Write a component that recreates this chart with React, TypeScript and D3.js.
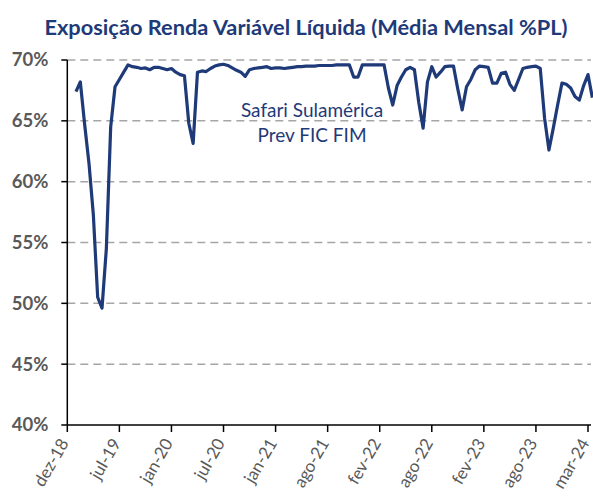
import { useEffect, useRef } from 'react';
import * as d3 from 'd3';

const title = 'Exposição Renda Variável Líquida (Média Mensal %PL)';
const seriesName = ['Safari Sulamérica', 'Prev FIC FIM'];

const tickLabels = ['dez-18', 'jul-19', 'jan-20', 'jul-20', 'jan-21', 'ago-21', 'fev-22', 'ago-22', 'fev-23', 'ago-23', 'mar-24'];
const yTicks = [40, 45, 50, 55, 60, 65, 70];

// roughly semi-monthly readings (% do PL), first reading a little after dez-18
const exposure = [
  67.4, 68.2, 64.7, 61.5, 57.3, 50.5, 49.6, 54.5, 64.5, 67.8,
  68.4, 69.0, 69.6, 69.45, 69.4, 69.3, 69.35, 69.2, 69.4, 69.4,
  69.3, 69.2, 69.3, 69.0, 68.8, 68.7, 64.8, 63.15, 69.0, 69.1,
  69.05, 69.3, 69.5, 69.6, 69.65, 69.55, 69.35, 69.15, 69.0, 68.65,
  69.2, 69.3, 69.35, 69.4, 69.45, 69.3, 69.35, 69.35, 69.3, 69.35,
  69.4, 69.45, 69.45, 69.5, 69.5, 69.5, 69.55, 69.55, 69.55, 69.55,
  69.6, 69.6, 69.6, 69.6, 68.6, 68.6, 69.6, 69.6, 69.6, 69.6,
  69.6, 69.6, 67.7, 66.3, 67.9, 68.6, 69.2, 69.4, 69.2, 66.5,
  64.4, 68.2, 69.45, 68.6, 69.0, 69.45, 69.5, 69.5, 67.6, 65.9,
  67.8, 68.4, 69.2, 69.5, 69.45, 69.4, 68.1, 68.1, 68.9, 69.0,
  68.0, 67.5, 68.4, 69.3, 69.4, 69.45, 69.5, 69.3, 65.2, 62.6,
  64.4, 66.3, 68.1, 68.0, 67.7, 67.0, 66.7, 67.9, 68.8, 66.9,
];
const firstIndex = 2;
const pointsPerLabel = 12;

export default function App() {
  const svgRef = useRef<SVGSVGElement>(null);

  useEffect(() => {
    if (!svgRef.current) return;
    const width = 593;
    const height = 502;
    const svg = d3.select(svgRef.current);
    svg.selectAll('*').remove();
    svg.attr('width', width).attr('height', height);

    const font = 'Lato, "Open Sans", sans-serif';
    const blue = '#1f3a78';
    const gray = '#595959';

    const plot = { left: 67.3, right: 591, top: 60, bottom: 425 };
    const lastTick = 588;

    const x = d3.scaleLinear()
      .domain([0, (tickLabels.length - 1) * pointsPerLabel])
      .range([plot.left, lastTick]);
    const y = d3.scaleLinear().domain([40, 70]).range([plot.bottom, plot.top]);

    // title
    svg.append('text')
      .attr('x', 306)
      .attr('y', 35)
      .attr('text-anchor', 'middle')
      .attr('font-family', font)
      .attr('font-weight', 700)
      .attr('font-size', 21.8)
      .attr('fill', blue)
      .text(title);

    // gridlines
    svg.append('g')
      .selectAll('line')
      .data(yTicks.filter(d => d > 40))
      .join('line')
      .attr('x1', plot.left)
      .attr('x2', plot.right)
      .attr('y1', d => y(d))
      .attr('y2', d => y(d))
      .attr('stroke', '#a6a6a6')
      .attr('stroke-width', 1.5)
      .attr('stroke-dasharray', '8,5');

    // y axis
    const yAxis = svg.append('g').attr('transform', `translate(${plot.left},0)`);
    yAxis.append('line')
      .attr('y1', plot.top)
      .attr('y2', plot.bottom)
      .attr('stroke', '#000')
      .attr('stroke-width', 1.5);
    yAxis.selectAll('line.tick')
      .data(yTicks)
      .join('line')
      .attr('class', 'tick')
      .attr('x1', -6)
      .attr('x2', 0)
      .attr('y1', d => y(d))
      .attr('y2', d => y(d))
      .attr('stroke', '#000')
      .attr('stroke-width', 1.5);
    yAxis.selectAll('text')
      .data(yTicks)
      .join('text')
      .attr('x', -19)
      .attr('y', d => y(d))
      .attr('dy', '0.35em')
      .attr('text-anchor', 'end')
      .attr('font-family', font)
      .attr('font-weight', 700)
      .attr('font-size', 18.5)
      .attr('fill', gray)
      .text(d => `${d}%`);

    // x axis
    const xAxis = svg.append('g').attr('transform', `translate(0,${plot.bottom})`);
    xAxis.append('line')
      .attr('x1', plot.left)
      .attr('x2', plot.right)
      .attr('stroke', '#000')
      .attr('stroke-width', 1.5);
    xAxis.selectAll('line.tick')
      .data(tickLabels)
      .join('line')
      .attr('class', 'tick')
      .attr('x1', (_, i) => x(i * pointsPerLabel))
      .attr('x2', (_, i) => x(i * pointsPerLabel))
      .attr('y1', 0)
      .attr('y2', 7)
      .attr('stroke', '#000')
      .attr('stroke-width', 1.5);
    xAxis.selectAll('text')
      .data(tickLabels)
      .join('text')
      .attr('transform', (_, i) => `translate(${x(i * pointsPerLabel) + 2},${18}) rotate(-60)`)
      .attr('text-anchor', 'end')
      .attr('font-family', font)
      .attr('font-size', 17)
      .attr('fill', gray)
      .text(d => d);

    // series line
    const line = d3.line<number>()
      .x((_, i) => x(firstIndex + i))
      .y(d => y(d));
    svg.append('path')
      .datum(exposure)
      .attr('d', line)
      .attr('fill', 'none')
      .attr('stroke', blue)
      .attr('stroke-width', 3.2)
      .attr('stroke-linejoin', 'round');

    // series label
    svg.append('g')
      .selectAll('text')
      .data(seriesName)
      .join('text')
      .attr('x', 312)
      .attr('y', (_, i) => 117 + i * 24.5)
      .attr('text-anchor', 'middle')
      .attr('font-family', font)
      .attr('font-size', 19)
      .attr('fill', blue)
      .text(d => d);
  }, []);

  return <svg ref={svgRef} style={{ position: 'absolute', left: 0, top: 0 }}></svg>;
}
